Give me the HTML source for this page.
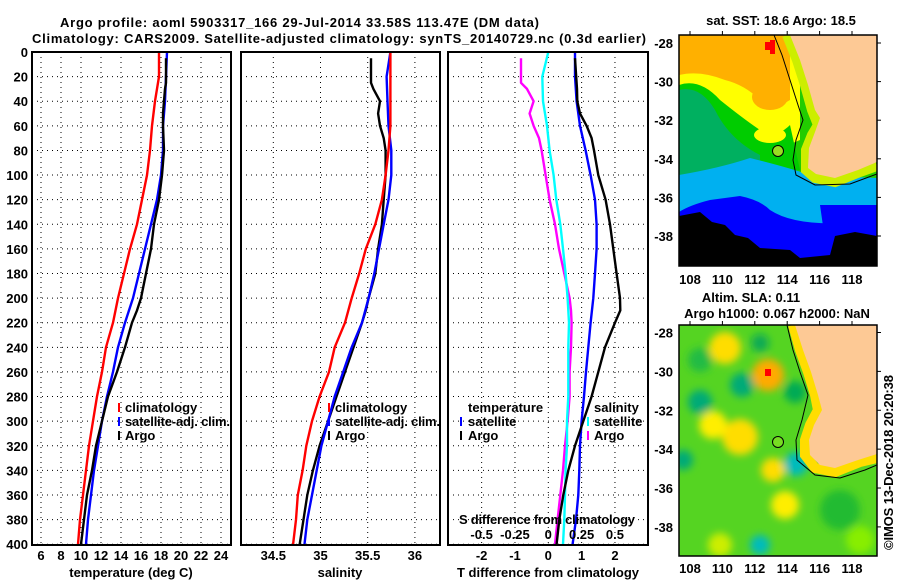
<!DOCTYPE html>
<html><head><meta charset="utf-8"><style>
html,body{margin:0;padding:0;background:#fff;}
svg{display:block;}
text{font-family:"Liberation Sans",Arial,sans-serif;font-weight:bold;font-size:13px;fill:#000;}
</style></head><body>
<svg id="chart" width="900" height="580" viewBox="0 0 900 580" xmlns="http://www.w3.org/2000/svg">
<defs>
<clipPath id="cTop"><rect x="679" y="35" width="198" height="231"/></clipPath>
<clipPath id="cBot"><rect x="679" y="325" width="198" height="231"/></clipPath>
<filter id="blur6"><feGaussianBlur stdDeviation="4"/></filter>
</defs>
<text x="60" y="27" textLength="479">Argo profile: aoml 5903317_166 29-Jul-2014 33.58S 113.47E (DM data)</text>
<text x="32" y="43" textLength="614">Climatology: CARS2009. Satellite-adjusted climatology: synTS_20140729.nc (0.3d earlier)</text>

<g id="grid"></g>
<g id="marks"></g>
<g id="frames" fill="none" stroke="#000" stroke-width="2">
<rect x="32" y="52" width="199" height="493"/>
<rect x="241" y="52" width="199" height="493"/>
<rect x="448" y="52" width="200" height="493"/>
</g>
<g id="labels"></g>

<g>
<rect x="118" y="403" width="2" height="9" fill="#f00"/><text x="125" y="412">climatology</text>
<rect x="118" y="417" width="2" height="9" fill="#00f"/><text x="125" y="426" textLength="105">satellite-adj. clim.</text>
<rect x="118" y="431" width="2" height="9" fill="#000"/><text x="125" y="440">Argo</text>
</g>
<g>
<rect x="328" y="403" width="2" height="9" fill="#f00"/><text x="335" y="412">climatology</text>
<rect x="328" y="417" width="2" height="9" fill="#00f"/><text x="335" y="426" textLength="105">satellite-adj. clim.</text>
<rect x="328" y="431" width="2" height="9" fill="#000"/><text x="335" y="440">Argo</text>
</g>
<g>
<text x="468" y="412">temperature</text>
<rect x="460" y="417" width="2" height="9" fill="#00f"/><text x="468" y="426">satellite</text>
<rect x="460" y="431" width="2" height="9" fill="#000"/><text x="468" y="440">Argo</text>
<text x="594" y="412">salinity</text>
<rect x="587" y="417" width="2" height="9" fill="#0ff"/><text x="594" y="426">satellite</text>
<rect x="587" y="431" width="2" height="9" fill="#f0f"/><text x="594" y="440">Argo</text>
</g>
<text x="459" y="524" textLength="176">S difference from climatology</text>

<text x="131" y="577" text-anchor="middle">temperature (deg C)</text>
<text x="340" y="577" text-anchor="middle">salinity</text>
<text x="548" y="577" text-anchor="middle">T difference from climatology</text>

<text x="781" y="25" text-anchor="middle">sat. SST: 18.6 Argo: 18.5</text>
<g clip-path="url(#cTop)">
<rect x="679" y="35" width="198" height="231" fill="#22cc00"/>
<path d="M679,35 H800 V140 Q780,150 760,140 Q740,120 720,115 Q700,110 679,120 Z" fill="#ffff00"/>
<path d="M679,35 H790 V100 Q775,110 760,100 Q745,85 725,80 Q700,70 679,75 Z" fill="#ffb000"/>
<ellipse cx="770" cy="97" rx="18" ry="13" fill="#ffb000"/>
<path d="M679,85 Q700,78 720,100 Q745,120 760,130 Q775,140 790,125 L800,170 L679,180 Z" fill="#00cc00"/>
<path d="M679,90 Q700,85 715,110 Q730,140 760,155 L760,175 L679,180 Z" fill="#00b060"/>
<ellipse cx="770" cy="135" rx="16" ry="8" fill="#ffff00"/>
<path d="M679,175 Q720,168 750,158 Q790,168 810,175 L877,178 V266 H679 Z" fill="#00b0f0"/>
<path d="M679,212 Q690,205 710,200 L740,196 Q760,200 770,210 Q800,230 877,220 V266 H679 Z" fill="#0000ff"/>
<path d="M820,205 H877 V240 H825 Z" fill="#0000ff"/>
<path d="M679,216 L700,212 L712,222 L725,225 L735,235 L748,238 L760,248 L790,250 L800,258 L830,255 L835,236 L855,232 L877,236 V266 H679 Z" fill="#000"/>
<rect x="765" y="42" width="10" height="8" fill="#f00"/><rect x="770" y="40" width="5" height="14" fill="#f00"/>
<path d="M787,35 L797,60 L805,85 L812,110 L818,125 L812,135 L806,150 L806,170 L815,178 L835,182 L860,172 L877,166" fill="none" stroke="#ccee00" stroke-width="10"/>
<path d="M790,35 L800,60 L808,85 L815,110 L820,118 L815,132 L809,148 L808,168 L816,174 L835,178 L858,170 L877,162 V35 Z" fill="#fdc995"/>
<path d="M774,35 L782,55 L790,80 L798,105 L803,120 L796,140 L793,160 L796,175 L815,185 L850,184 L877,174" fill="none" stroke="#000" stroke-width="1"/>
<circle cx="778" cy="151" r="5.5" fill="#99dd22" stroke="#000" stroke-width="1"/>
</g>
<rect x="679" y="35" width="198" height="231" fill="none" stroke="#000" stroke-width="1.5"/>

<text x="751" y="302" text-anchor="middle">Altim. SLA: 0.11</text>
<text x="777" y="318" text-anchor="middle">Argo h1000: 0.067 h2000: NaN</text>
<g clip-path="url(#cBot)">
<rect x="679" y="325" width="198" height="231" fill="#55d422"/>
<g filter="url(#blur6)">
<circle cx="725" cy="348" r="16" fill="#ffdd00"/>
<circle cx="768" cy="375" r="16" fill="#ffaa00"/>
<circle cx="700" cy="402" r="12" fill="#00aa77"/>
<circle cx="742" cy="385" r="12" fill="#00aa77"/>
<circle cx="760" cy="343" r="9" fill="#11aa55"/>
<circle cx="795" cy="392" r="11" fill="#00aa55"/>
<circle cx="740" cy="437" r="18" fill="#ffdd00"/>
<circle cx="713" cy="425" r="14" fill="#ffee00"/>
<circle cx="773" cy="470" r="12" fill="#ffdd00"/>
<circle cx="700" cy="360" r="12" fill="#22bb44"/>
<circle cx="796" cy="464" r="12" fill="#00bbbb"/>
<circle cx="683" cy="460" r="10" fill="#00aa77"/>
<circle cx="785" cy="505" r="14" fill="#ffee00"/>
<circle cx="760" cy="545" r="10" fill="#00bbbb"/>
<circle cx="840" cy="510" r="20" fill="#22bb33"/>
<circle cx="860" cy="540" r="14" fill="#88ee00"/>
<circle cx="720" cy="545" r="12" fill="#ccee00"/>
</g>
<rect x="765" y="369" width="6" height="7" fill="#f00"/>
<path d="M793,325 L800,350 L808,372 L815,395 L818,410 L810,425 L805,440 L805,455 L815,468 L835,472 L860,462 L877,458" fill="none" stroke="#ffdd00" stroke-width="10"/>
<path d="M795,325 L803,350 L811,372 L818,395 L822,410 L814,425 L809,440 L810,455 L820,465 L835,468 L858,460 L877,454 V325 Z" fill="#fdc995"/>
<path d="M787,325 L793,350 L800,372 L808,395 L802,420 L796,440 L797,460 L815,475 L840,478 L865,470 L877,465" fill="none" stroke="#000" stroke-width="1"/>
<circle cx="778" cy="442" r="5.5" fill="#77dd22" stroke="#000" stroke-width="1"/>
</g>
<rect x="679" y="325" width="198" height="231" fill="none" stroke="#000" stroke-width="1.5"/>
<g id="maplabels"></g>
<text transform="translate(893,550) rotate(-90)" font-size="12" textLength="175">©IMOS 13-Dec-2018 20:20:38</text>
</svg>
<script>
const depthTicks = [0,20,40,60,80,100,120,140,160,180,200,220,240,260,280,300,320,340,360,380,400];
const tempTicks = [6,8,10,12,14,16,18,20,22,24];
const salTicks = [34.5,35,35.5,36];
const salTickLabels = ["34.5","35","35.5","36"];
const dTTicks = [-2,-1,0,1,2];
const dSTicks = [-0.5,-0.25,0,0.25,0.5];
const dSTickLabels = ["-0.5","-0.25","0","0.25","0.5"];
const lonTicks = [108,110,112,114,116,118];
const latTicks = [-28,-30,-32,-34,-36,-38];

const depthsClim = [0,20,40,60,80,100,120,140,160,180,200,220,240,260,280,300,320,340,360,380,400];
const tempClim = [17.8,17.8,17.4,17.1,16.9,16.6,16.1,15.6,14.9,14.3,13.7,13.2,12.5,12.1,11.6,11.2,10.8,10.5,10.2,9.9,9.7];
const tempSat = [18.6,18.5,18.4,18.2,18.2,18.0,17.6,17.0,16.4,15.8,15.2,14.4,13.7,13.2,12.6,12.1,11.7,11.3,11.0,10.7,10.5];
const salClim = [35.74,35.74,35.74,35.74,35.72,35.69,35.65,35.58,35.48,35.41,35.33,35.26,35.15,35.09,34.99,34.91,34.85,34.81,34.76,34.74,34.71];
const salSat = [35.74,35.70,35.71,35.72,35.75,35.75,35.72,35.67,35.62,35.57,35.51,35.44,35.33,35.24,35.15,35.08,35.01,34.96,34.91,34.86,34.83];
const dTSat = [0.8,0.8,0.85,0.95,1.12,1.27,1.4,1.45,1.45,1.4,1.35,1.27,1.2,1.13,1.07,1.0,0.95,0.93,0.9,0.83,0.73];
const dSSat = [0,-0.045,-0.04,-0.01,0.01,0.04,0.06,0.09,0.11,0.13,0.145,0.155,0.15,0.15,0.15,0.14,0.14,0.13,0.125,0.12,0.11];

const depthsArgo = [5,25,30,40,50,60,70,80,100,120,140,160,180,200,210,220,240,260,280,300,320,340,360,380,400];
const tempArgo = [18.5,18.5,18.4,18.3,18.2,18.2,18.25,18.3,18.1,17.8,17.3,17.0,16.5,16.0,15.6,15.1,14.4,13.6,12.7,12.1,11.5,11.1,10.6,10.3,10.0];
const salArgo = [35.535,35.535,35.56,35.63,35.61,35.63,35.67,35.69,35.69,35.67,35.65,35.61,35.58,35.51,35.48,35.44,35.35,35.26,35.17,35.08,34.99,34.92,34.86,34.82,34.78];
const dTArgo = [0.8,0.85,0.86,0.87,0.95,1.15,1.3,1.37,1.5,1.72,1.85,1.95,2.05,2.15,2.16,2.0,1.7,1.5,1.3,1.05,0.8,0.6,0.45,0.33,0.25];
const dSArgo = [-0.205,-0.205,-0.16,-0.11,-0.14,-0.11,-0.07,-0.05,-0.02,0.01,0.05,0.08,0.12,0.16,0.17,0.175,0.17,0.16,0.16,0.145,0.125,0.11,0.09,0.07,0.05];

const yD = d => 52 + d * 1.2305;
const xT = t => 41 + (t - 6) * 10;
const xS = s => 273.3 + (s - 34.5) * 94.4;
const xDT = v => 548.3 + v * 33.33;
const xDS = v => 548.3 + v * 133.33;
const xLon = l => 690 + (l - 108) * 16.2;
const yLatTop = l => 43 + (-28 - l) * 19.3;
const yLatBot = l => 332.5 + (-28 - l) * 19.44;

const NS = "http://www.w3.org/2000/svg";
function mk(tag, attrs, parent) {
  const e = document.createElementNS(NS, tag);
  for (const k in attrs) e.setAttribute(k, attrs[k]);
  parent.appendChild(e);
  return e;
}
const grid = document.getElementById('grid');
const marks = document.getElementById('marks');
const labels = document.getElementById('labels');
const maplabels = document.getElementById('maplabels');

const panels = [[32,231],[241,440],[448,648]];
depthTicks.forEach((d, i) => {
  panels.forEach(p => {
    const l = mk('line', {x1:p[0], x2:p[1], y1:yD(d), y2:yD(d), stroke:'#000', 'stroke-width':1, 'stroke-dasharray':'1,4'}, grid);
    
    
  });
  const t = mk('text', {x:28, y:yD(d)+5, 'text-anchor':'end'}, labels);
  t.textContent = d;
  
  
});
function vgrid(vals, fx, labs, ly) {
  vals.forEach((v, i) => {
    const l = mk('line', {x1:fx(v), x2:fx(v), y1:52, y2:545, stroke:'#000', 'stroke-width':1, 'stroke-dasharray':'1,4'}, grid);
    
    
    const t = mk('text', {x:fx(v), y:ly, 'text-anchor':'middle'}, labels);
    t.textContent = labs ? labs[i] : v;
    
    
  });
}
vgrid(tempTicks, xT, null, 560);
vgrid(salTicks, xS, salTickLabels, 560);
vgrid(dTTicks, xDT, null, 560);
dSTicks.forEach((v, i) => {
  const t = mk('text', {x:xDS(v), y:539, 'text-anchor':'middle'}, labels);
  t.textContent = dSTickLabels[i];
  
  
});

function line(vals, depths, fx, color, name) {
  const pts = vals.map((v, i) => fx(v).toFixed(1) + ',' + yD(depths[i]).toFixed(1)).join(' ');
  const e = mk('polyline', {points:pts, fill:'none', stroke:color, 'stroke-width':2.4, 'stroke-linejoin':'round'}, marks);
  
  
}
line(tempClim, depthsClim, xT, '#f00', 'temperature-climatology-line');
line(tempSat, depthsClim, xT, '#00f', 'temperature-satellite-line');
line(tempArgo, depthsArgo, xT, '#000', 'temperature-argo-line');
line(salArgo, depthsArgo, xS, '#000', 'salinity-argo-line');
line(salSat, depthsClim, xS, '#00f', 'salinity-satellite-line');
line(salClim, depthsClim, xS, '#f00', 'salinity-climatology-line');
line(dSArgo, depthsArgo, xDS, '#f0f', 's-difference-argo-line');
line(dSSat, depthsClim, xDS, '#0ff', 's-difference-satellite-line');
line(dTSat, depthsClim, xDT, '#00f', 't-difference-satellite-line');
line(dTArgo, depthsArgo, xDT, '#000', 't-difference-argo-line');

[[yLatTop, 35, 266, 284], [yLatBot, 325, 556, 573]].forEach(m => {
  lonTicks.forEach(l => {
    const t = mk('text', {x:xLon(l), y:m[3], 'text-anchor':'middle'}, maplabels);
    t.textContent = l;
    
    
    mk('line', {x1:xLon(l), x2:xLon(l), y1:m[1]-4, y2:m[1], stroke:'#000'}, maplabels);
  });
  latTicks.forEach(l => {
    const t = mk('text', {x:673, y:m[0](l)+5, 'text-anchor':'end'}, maplabels);
    t.textContent = l;
    
    
    mk('line', {x1:877, x2:881, y1:m[0](l), y2:m[0](l), stroke:'#000'}, maplabels);
  });
});
</script>
</body></html>
